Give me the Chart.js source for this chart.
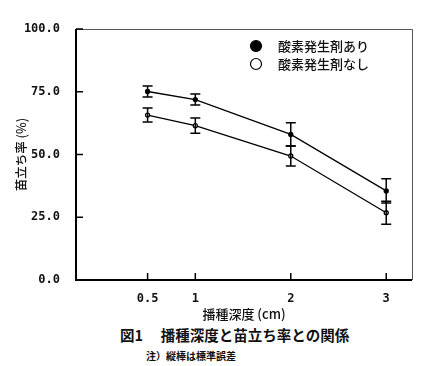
<!DOCTYPE html>
<html>
<head>
<meta charset="utf-8">
<script src="https://cdn.jsdelivr.net/npm/chart.js"></script>
<style>
  body { margin: 0; background: #fff; }
  .wrap { position: relative; width: 424px; height: 366px; }
  .chart-box { position: absolute; left: 0; top: 0; width: 424px; height: 322px; }
  .caption { position: absolute; left: 120px; top: 324px; font: bold 14.5px "Noto Sans CJK JP"; color: #111; white-space: pre; }
  .note { position: absolute; left: 146px; top: 348px; font: bold 10px "Noto Sans CJK JP"; color: #111; }
</style>
</head>
<body>
<div class="wrap">
  <div class="chart-box"><canvas id="myChart"></canvas></div>
  <div class="caption">図1　 播種深度と苗立ち率との関係</div>
  <div class="note">注）縦棒は標準誤差</div>
</div>
<script>
// 播種深度 (cm)
var depths = [0.5, 1, 2, 3];
// 苗立ち率 (%) と標準誤差
var withO2 = [75.1, 71.9, 58.0, 35.5];
var withO2Err = [2.2, 2.2, 4.6, 4.8];
var withoutO2 = [65.7, 61.5, 49.4, 26.8];
var withoutO2Err = [2.8, 3.0, 4.0, 4.6];
var xTicks = [0.5, 1, 2, 3];
var yTicks = [0, 25, 50, 75, 100];

function pts(ys) {
  return depths.map(function (d, i) { return { x: d, y: ys[i] }; });
}

// 枠線・内向き目盛・誤差棒・凡例
var extras = {
  id: 'extras',
  afterDatasetsDraw: function (chart) {
    var ctx = chart.ctx, a = chart.chartArea;
    var xs = chart.scales.x, ys = chart.scales.y;
    ctx.save();
    // frame
    ctx.strokeStyle = '#555';
    ctx.lineWidth = 1;
    ctx.beginPath();
    ctx.moveTo(a.left, a.top + 0.5); ctx.lineTo(a.right + 0.5, a.top + 0.5); ctx.lineTo(a.right + 0.5, a.bottom);
    ctx.stroke();
    ctx.strokeStyle = '#000';
    ctx.lineWidth = 2;
    ctx.beginPath();
    ctx.moveTo(a.left, a.top); ctx.lineTo(a.left, a.bottom); ctx.lineTo(a.right, a.bottom);
    ctx.stroke();
    // inward ticks
    ctx.lineWidth = 1.5;
    yTicks.forEach(function (v) {
      var y = ys.getPixelForValue(v);
      ctx.beginPath(); ctx.moveTo(a.left, y); ctx.lineTo(a.left + 7, y); ctx.stroke();
    });
    xTicks.forEach(function (v) {
      var x = xs.getPixelForValue(v);
      ctx.beginPath(); ctx.moveTo(x, a.bottom); ctx.lineTo(x, a.bottom - 7); ctx.stroke();
    });
    // error bars
    var errs = [withO2Err, withoutO2Err];
    chart.data.datasets.forEach(function (ds, di) {
      var meta = chart.getDatasetMeta(di);
      meta.data.forEach(function (p, i) {
        var v = ds.data[i].y, e = errs[di][i];
        var y1 = ys.getPixelForValue(v + e), y2 = ys.getPixelForValue(v - e);
        ctx.lineWidth = 1.5;
        ctx.beginPath();
        ctx.moveTo(p.x, y1); ctx.lineTo(p.x, y2);
        ctx.moveTo(p.x - 5, y1); ctx.lineTo(p.x + 5, y1);
        ctx.moveTo(p.x - 5, y2); ctx.lineTo(p.x + 5, y2);
        ctx.stroke();
      });
    });
    // legend
    ctx.font = '500 13px "Noto Sans CJK JP"';
    ctx.textBaseline = 'middle';
    chart.data.datasets.forEach(function (ds, di) {
      var cy = 46 + di * 18;
      ctx.beginPath();
      ctx.arc(256, cy, 5.5, 0, Math.PI * 2);
      ctx.lineWidth = 1.2;
      if (di === 0) { ctx.fillStyle = '#000'; ctx.fill(); }
      ctx.stroke();
      ctx.fillStyle = '#111';
      ctx.fillText(ds.label, 278, cy);
    });
    ctx.restore();
  }
};

new Chart(document.getElementById('myChart'), {
  type: 'line',
  data: {
    datasets: [
      { label: '酸素発生剤あり', data: pts(withO2), borderColor: '#000', borderWidth: 1.3,
        pointRadius: 2, pointBackgroundColor: '#000', pointBorderColor: '#000' },
      { label: '酸素発生剤なし', data: pts(withoutO2), borderColor: '#000', borderWidth: 1.3,
        pointRadius: 2, pointBackgroundColor: '#fff', pointBorderColor: '#000' }
    ]
  },
  options: {
    responsive: true,
    maintainAspectRatio: false,
    animation: false,
    layout: { padding: { top: 29, right: 12, left: 0, bottom: 0 } },
    plugins: { legend: { display: false }, tooltip: { enabled: false } },
    scales: {
      x: {
        type: 'linear', min: -0.25, max: 3.27,
        grid: { display: false }, border: { display: false },
        afterBuildTicks: function (s) { s.ticks = xTicks.map(function (v) { return { value: v }; }); },
        ticks: { padding: 4, color: '#111', font: { family: 'DejaVu Sans Mono', size: 12, weight: 'bold' },
          callback: function (v) { return v === 0.5 ? '0.5' : String(v); } },
        title: { display: true, text: '播種深度 (cm)', color: '#111', padding: { top: 0, bottom: 0 },
          font: { family: 'Noto Sans CJK JP', size: 13, weight: '500' } },
        afterFit: function (s) { s.height = 42; }
      },
      y: {
        min: 0, max: 100,
        grid: { display: false }, border: { display: false },
        afterBuildTicks: function (s) { s.ticks = yTicks.map(function (v) { return { value: v }; }); },
        ticks: { padding: 8, color: '#111', font: { family: 'DejaVu Sans Mono', size: 12, weight: 'bold' },
          callback: function (v) { return v.toFixed(1); } },
        title: { display: true, text: '苗立ち率 (%)', color: '#111', padding: { top: 14, bottom: 0 },
          font: { family: 'Noto Sans CJK JP', size: 12.5, weight: '500' } },
        afterFit: function (s) { s.width = 76; }
      }
    }
  },
  plugins: [extras]
});
</script>
</body>
</html>
